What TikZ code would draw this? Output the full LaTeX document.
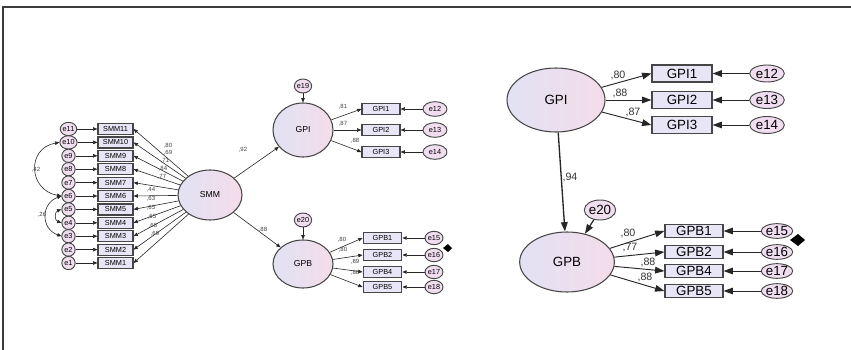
\documentclass[tikz,border=0pt]{standalone}
\usepackage{fontspec}
\setmainfont{Liberation Sans}
\usetikzlibrary{arrows.meta,shapes.geometric}
\definecolor{lav}{RGB}{226,226,244}
\definecolor{pnk}{RGB}{244,220,234}
\definecolor{boxf}{RGB}{232,230,246}
\definecolor{errf}{RGB}{240,222,240}
\definecolor{edgec}{RGB}{70,70,70}
\definecolor{framec}{RGB}{60,60,60}
\begin{document}
\begin{tikzpicture}[x=0.75pt,y=-0.75pt,
  lat/.style={ellipse, draw=edgec, line width=0.8pt, left color=lav, right color=pnk, inner sep=0pt},
  obs/.style={rectangle, draw=edgec, line width=0.9pt, fill=boxf, inner sep=0pt},
  err/.style={ellipse, draw=edgec, line width=0.7pt, fill=errf, inner sep=0pt},
  arrS/.style={-{Triangle[length=3.2pt,width=2.6pt]}, line width=0.45pt, draw=black!85},
  arrL/.style={-{Triangle[length=7pt,width=5pt]}, line width=0.8pt, draw=black!85},
  covS/.style={{Triangle[length=3.2pt,width=2.6pt]}-{Triangle[length=3.2pt,width=2.6pt]}, line width=0.45pt, draw=black!85},
  fs/.style={font=\fontsize{5.5}{6}\selectfont},
  fm/.style={font=\fontsize{6.5}{7}\selectfont},
  fl/.style={font=\fontsize{10}{11}\selectfont},
  lblS/.style={font=\fontsize{4.5}{5}\selectfont, text=black!75, inner sep=0pt},
  lblL/.style={font=\fontsize{8}{9}\selectfont, text=black!80, inner sep=0pt}
]
\path[use as bounding box] (0,0) rectangle (851,350);
% frame
\draw[framec, line width=1.4pt] (3,350) -- (3,7) -- (851,7);

% ---------------- left diagram ----------------
\node[lat, fm, minimum width=48pt, minimum height=37.5pt] (smm) at (210,195) {SMM};
\foreach \i in {0,...,10}{
  \pgfmathtruncatemacro\n{11-\i}
  \pgfmathsetmacro\yy{129+13.4*\i}
  \node[err, fs, minimum width=10pt, minimum height=10pt] (e\n) at (68.5,\yy) {e\n};
  \node[obs, fs, minimum width=26.25pt, minimum height=8.25pt] (b\n) at (115.5,\yy) {SMM\n};
  \draw[arrS] (e\n) -- (b\n);
  \draw[arrS] (smm) -- (b\n.east);
}
\foreach \n/\l/\lx/\ly in {11/{,80}/168/146, 10/{,69}/168/153, 9/{,71}/165/161, 8/{,84}/163/169, 7/{,77}/162/177,
  6/{,44}/151/190, 5/{,63}/151/199, 4/{,65}/151/208, 3/{,65}/152/217, 2/{,68}/153/226, 1/{,69}/155/234}{
  \node[lblS] (ls\n) at (\lx,\ly) {\l};
}
% covariances
\draw[covS] (e6.west) to[out=170, in=190, looseness=1.6] (e10.west);
\node[lblS] (c42) at (36,170) {,42};
\draw[covS] (e6.west) to[out=200, in=160, looseness=1.4] (e3.west);
\draw[covS] (e5.west) to[out=200, in=160, looseness=1.4] (e4.west);
\node[lblS] (c26) at (42,215) {,26};

% GPI (left)
\node[lat, fm, minimum width=45pt, minimum height=40.5pt] (gpiL) at (303,130) {GPI};
\node[err, fs, minimum width=10.5pt, minimum height=10.5pt] (e19) at (303,86) {e19};
\draw[arrS] (e19) -- (gpiL);
\draw[arrS] (smm) -- (gpiL);
\node[lblS] (l92) at (243,150) {,92};
\foreach \k/\yy/\l/\lx/\ly/\en in {1/109/{,81}/343/107/12, 2/130/{,87}/343/124/13, 3/152/{,88}/355/141/14}{
  \node[obs, fs, minimum width=28.5pt, minimum height=8.25pt] (gi\k) at (381,\yy) {GPI\k};
  \node[err, fs, minimum width=18pt, minimum height=11pt] (eg\k) at (435,\yy) {e\en};
  \draw[arrS] (gpiL) -- (gi\k.west);
  \draw[arrS] (eg\k) -- (gi\k);
  \node[lblS] (lg\k) at (\lx,\ly) {\l};
}

% GPB (left)
\node[lat, fm, minimum width=45pt, minimum height=36pt] (gpbL) at (303,264) {GPB};
\node[err, fs, minimum width=10.5pt, minimum height=10.5pt] (e20) at (303,220) {e20};
\draw[arrS] (e20) -- (gpbL);
\draw[arrS] (smm) -- (gpbL);
\node[lblS] (l88) at (263,230) {,88};
\foreach \k/\yy/\l/\lx/\ly/\en in {1/238/{,80}/342/240/15, 2/255/{,80}/343/250/16, 4/272/{,89}/355/262/17, 5/287/{,88}/355/273/18}{
  \node[obs, fs, minimum width=29pt, minimum height=8.25pt] (gb\k) at (382.5,\yy) {GPB\k};
  \node[err, fs, minimum width=13.5pt, minimum height=10pt] (eb\k) at (434,\yy) {e\en};
  \draw[arrS] (gpbL) -- (gb\k.west);
  \draw[arrS] (eb\k) -- (gb\k);
  \node[lblS] (lb\k) at (\lx,\ly) {\l};
}
\fill[black] (443,248) -- (448,244) -- (452,248) -- (448,252) -- cycle;

% ---------------- right diagram ----------------
\node[lat, fl, minimum width=73.5pt, minimum height=48pt] (gpiR) at (556,100) {GPI};
\foreach \k/\yy/\l/\lx/\ly/\en in {1/73.5/{,80}/618/75/12, 2/100/{,88}/620/93/13, 3/125/{,87}/633/112/14}{
  \node[obs, fl, minimum width=45pt, minimum height=12.75pt] (Gi\k) at (682,\yy) {GPI\k};
  \node[err, fl, minimum width=26pt, minimum height=12.75pt] (Eg\k) at (767,\yy) {e\en};
  \draw[arrL, line width=0.7pt] (gpiR) -- (Gi\k.west);
  \draw[arrL, line width=0.7pt] (Eg\k) -- (Gi\k);
  \node[lblL] (Lg\k) at (\lx,\ly) {\l};
}
\node[lat, fl, minimum width=71pt, minimum height=45pt] (gpbR) at (567,262) {GPB};
\draw[arrL, line width=1pt] (gpiR) -- (gpbR);
\node[lblL] (L94) at (570,177) {,94};
\node[err, fl, minimum width=18pt, minimum height=15pt] (E20) at (600,210) {e20};
\draw[arrL, line width=0.9pt] (E20) -- (gpbR);
\foreach \k/\yy/\l/\lx/\ly/\en in {1/231/{,80}/628/233/15, 2/252/{,77}/630/248/16, 4/271/{,88}/648/262/17, 5/291/{,88}/645/277/18}{
  \node[obs, fl, minimum width=43.5pt, minimum height=10pt] (Gb\k) at (694,\yy) {GPB\k};
  \node[err, fl, minimum width=22.5pt, minimum height=11pt] (Eb\k) at (777,\yy) {e\en};
  \draw[arrL, line width=0.7pt] (gpbR) -- (Gb\k.west);
  \draw[arrL, line width=0.7pt] (Eb\k) -- (Gb\k);
  \node[lblL] (Lb\k) at (\lx,\ly) {\l};
}
\fill[black] (790,240) -- (798,234) -- (805,240) -- (798,246) -- cycle;
\end{tikzpicture}
\end{document}
